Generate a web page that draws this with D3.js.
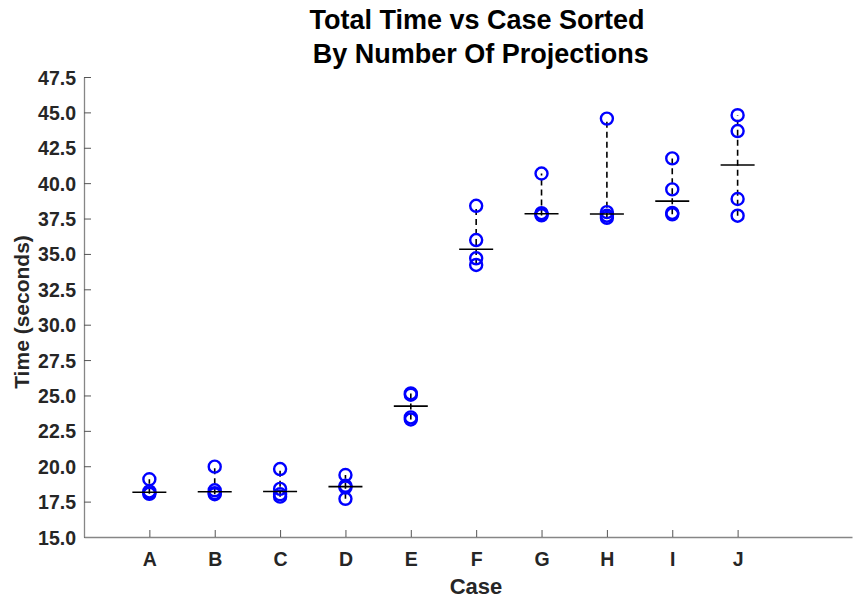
<!DOCTYPE html>
<html>
<head>
<meta charset="utf-8">
<script src="https://cdn.jsdelivr.net/npm/d3@7"></script>
<style>
  html, body { margin: 0; padding: 0; background: #fff; }
  svg { display: block; }
</style>
</head>
<body>
<svg id="chart" width="856" height="599"></svg>
<script>
// ---- data ----
const categories = ["A", "B", "C", "D", "E", "F", "G", "H", "I", "J"];
const trial1 = [18.05, 18.02, 17.85, 17.70, 23.30, 34.22, 37.72, 37.55, 37.80, 37.70];
const trial2 = [18.10, 18.10, 18.02, 18.50, 23.45, 34.69, 37.80, 37.70, 37.90, 38.88];
const trial3 = [18.22, 18.30, 18.40, 18.62, 25.05, 35.98, 37.88, 37.95, 39.56, 43.68];
const trial4 = [19.08, 19.97, 19.80, 19.38, 25.15, 38.40, 40.68, 44.56, 41.75, 44.80];
const yTicks = [15, 17.5, 20, 22.5, 25, 27.5, 30, 32.5, 35, 37.5, 40, 42.5, 45, 47.5];

const titleLines = ["Total Time vs Case Sorted", " By Number Of Projections"];
const xLabel = "Case";
const yLabel = "Time (seconds)";

// ---- layout ----
const svg = d3.select("#chart");
const mLeft = 84, mRight = 852, mTop = 77, mBottom = 537;
const font = "'Liberation Sans', Arial, Helvetica, sans-serif";

const x = d3.scaleLinear().domain([0, 11.75]).range([mLeft, mRight]);
const y = d3.scaleLinear().domain([15, 47.5]).range([mBottom, mTop]);

const cases = categories.map((c, i) => {
  const vals = [trial1[i], trial2[i], trial3[i], trial4[i]];
  return { c, i: i + 1, vals, med: d3.median(vals), min: d3.min(vals), max: d3.max(vals) };
});

// ---- axes ----
const yAxis = d3.axisLeft(y).tickValues(yTicks).tickFormat(d3.format(".1f"))
  .tickSizeInner(-7).tickSizeOuter(0).tickPadding(8);
const xAxis = d3.axisBottom(x).tickValues(cases.map(d => d.i))
  .tickFormat((d, i) => categories[i]).tickSizeInner(-7).tickSizeOuter(0).tickPadding(15);

const gy = svg.append("g").attr("transform", `translate(${mLeft},0)`).call(yAxis);
const gx = svg.append("g").attr("transform", `translate(0,${mBottom})`).call(xAxis);

[gx, gy].forEach(g => {
  g.select(".domain").attr("stroke", "#868686").attr("stroke-width", 1.3);
  g.selectAll(".tick line").attr("stroke", "#555").attr("stroke-width", 1);
  g.selectAll(".tick text").attr("fill", "#262626").attr("font-family", font)
    .attr("font-weight", "bold").attr("font-size", 19.5);
});
gy.selectAll(".tick text").attr("dy", "0.36em");

// ---- marks ----
const plot = svg.append("g");

plot.selectAll("line.range").data(cases).enter().append("line")
  .attr("class", "range")
  .attr("x1", d => x(d.i)).attr("x2", d => x(d.i))
  .attr("y1", d => y(d.min)).attr("y2", d => y(d.max))
  .attr("stroke", "#000").attr("stroke-width", 1.6)
  .attr("stroke-dasharray", "6,4");

const pts = cases.flatMap(d => d.vals.map(v => ({ i: d.i, v })));
plot.selectAll("circle").data(pts).enter().append("circle")
  .attr("cx", d => x(d.i)).attr("cy", d => y(d.v)).attr("r", 6)
  .attr("fill", "none").attr("stroke", "#0000ff").attr("stroke-width", 2.4);

plot.selectAll("line.med").data(cases).enter().append("line")
  .attr("class", "med")
  .attr("x1", d => x(d.i) - 17).attr("x2", d => x(d.i) + 17)
  .attr("y1", d => y(d.med)).attr("y2", d => y(d.med))
  .attr("stroke", "#000").attr("stroke-width", 1.6);

// ---- titles ----
svg.append("text").attr("x", 477).attr("y", 29).attr("text-anchor", "middle")
  .attr("font-family", font).attr("font-weight", "bold").attr("font-size", 27)
  .attr("fill", "#000").style("white-space", "pre").text(titleLines[0]);
svg.append("text").attr("x", 477).attr("y", 63).attr("text-anchor", "middle")
  .attr("font-family", font).attr("font-weight", "bold").attr("font-size", 27)
  .attr("fill", "#000").style("white-space", "pre").text(titleLines[1]);

svg.append("text").attr("x", 476).attr("y", 594).attr("text-anchor", "middle")
  .attr("font-family", font).attr("font-weight", "bold").attr("font-size", 22)
  .attr("fill", "#262626").text(xLabel);

svg.append("text").attr("transform", `translate(29,312) rotate(-90)`)
  .attr("text-anchor", "middle")
  .attr("font-family", font).attr("font-weight", "bold").attr("font-size", 21)
  .attr("fill", "#262626").text(yLabel);
</script>
</body>
</html>
